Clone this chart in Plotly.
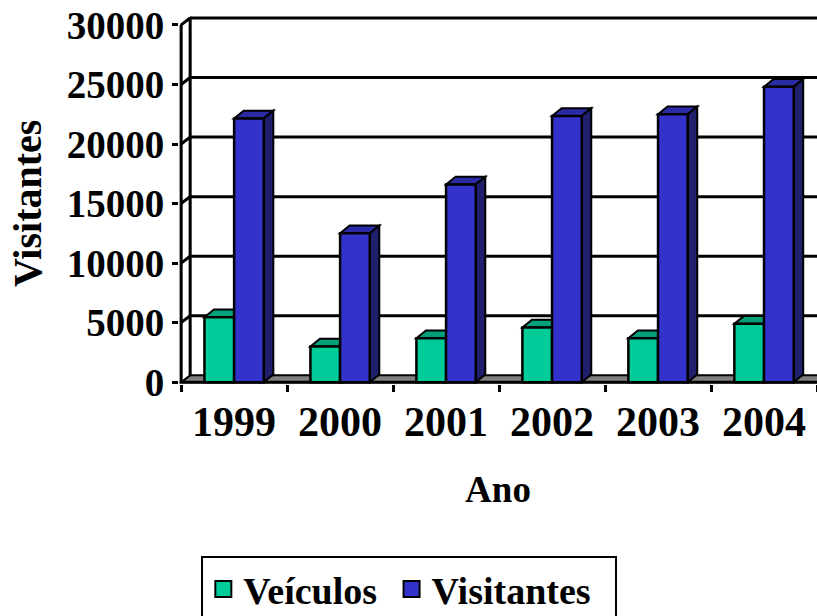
import plotly.graph_objects as go

anos = ["1999", "2000", "2001", "2002", "2003", "2004"]
veiculos = [5450, 3000, 3700, 4600, 3700, 4900]
visitantes = [22150, 12500, 16600, 22350, 22500, 24800]
y_ticks = [0, 5000, 10000, 15000, 20000, 25000, 30000]

GREEN, GREEN_TOP = "#00CC99", "#00A07A"
BLUE, BLUE_TOP, BLUE_SIDE = "#3333CC", "#2B2BA6", "#1F1F6B"
FONT = "Liberation Serif, Times New Roman, serif"

n = len(anos)
xc = [i + 0.5 for i in range(n)]
BW = 0.28           # bar width (category units)
WDX, WDY = 0.085, 580   # wall depth offset
BDX, BDY = 0.09, 650    # bar depth offset

fig = go.Figure()
fig.add_trace(go.Bar(x=xc, y=veiculos, name="Veículos", offset=-BW, width=BW,
                     marker=dict(color=GREEN, line=dict(color="black", width=2.5)),
                     showlegend=False))
fig.add_trace(go.Bar(x=xc, y=visitantes, name="Visitantes", offset=0, width=BW,
                     marker=dict(color=BLUE, line=dict(color="black", width=2.5)),
                     showlegend=False))
# legend entries
for nm, col, pad in [("Veículos", GREEN, 1), ("Visitantes", BLUE, 2)]:
    fig.add_trace(go.Scatter(x=[None], y=[None], mode="markers",
                             name=f"<b>{nm}</b>" + "\u00A0" * pad,
                             marker=dict(symbol="square", size=22, color=col,
                                         line=dict(color="black", width=2))))

shapes = []
def poly(pts, fill, lw=2):
    d = "M " + " L ".join(f"{x},{y}" for x, y in pts) + " Z"
    shapes.append(dict(type="path", path=d, xref="x", yref="y", fillcolor=fill,
                       line=dict(color="black", width=lw), layer="below"))
def line(x0, y0, x1, y1, w=3):
    shapes.append(dict(type="line", x0=x0, y0=y0, x1=x1, y1=y1, xref="x", yref="y",
                       line=dict(color="black", width=w), layer="below"))

xmax = n + 0.5
# floor
poly([(0, 0), (xmax, 0), (xmax + WDX, WDY), (WDX, WDY)], "#808080", 2)
# left wall
poly([(0, 0), (WDX, WDY), (WDX, y_ticks[-1] + WDY), (0, y_ticks[-1])], "white", 2)
# back-wall gridlines and wall connectors
for v in y_ticks[1:]:
    line(WDX, v + WDY, xmax + WDX, v + WDY, 3)
    line(0, v, WDX, v + WDY, 3)
line(WDX, WDY, WDX, y_ticks[-1] + WDY, 3)
# front axes
line(0, 0, 0, y_ticks[-1], 3)
line(0, 0, xmax, 0, 3)

# 3D faces of bars
for i in range(n):
    c = xc[i]
    g0, g1, gv = c - BW, c, veiculos[i]
    poly([(g0, gv), (g1, gv), (g1 + BDX, gv + BDY), (g0 + BDX, gv + BDY)], GREEN_TOP)
    b0, b1, bv = c, c + BW, visitantes[i]
    poly([(b0, bv), (b1, bv), (b1 + BDX, bv + BDY), (b0 + BDX, bv + BDY)], BLUE_TOP)
    poly([(b1, 0), (b1, bv), (b1 + BDX, bv + BDY), (b1 + BDX, BDY)], BLUE_SIDE)

fig.update_layout(
    width=817, height=616,
    margin=dict(l=179, r=0, t=13, b=232, autoexpand=False),
    paper_bgcolor="white", plot_bgcolor="white",
    shapes=shapes, barmode="overlay",
    font=dict(family=FONT, size=36, color="black"),
    showlegend=True,
    legend=dict(orientation="h", x=0.035, y=-0.463, xanchor="left", yanchor="top",
                bordercolor="black", borderwidth=2, bgcolor="white",
                font=dict(family=FONT, size=38, color="black"),
                itemsizing="trace", tracegroupgap=0, itemwidth=30),
    xaxis=dict(range=[-0.02, n], tickvals=xc, ticktext=[f"<b>{a}</b>" for a in anos],
               ticks="outside", automargin=False,
               ticklen=1, tickcolor="rgba(0,0,0,0)", showgrid=False, zeroline=False,
               showline=False,
               minor=dict(tickvals=list(range(n + 1)), ticks="outside", ticklen=7,
                          tickwidth=3, tickcolor="black", showgrid=False),
               tickfont=dict(family=FONT, size=42, color="black"),
               title=dict(text="<b>Ano</b>", standoff=31,
                          font=dict(family=FONT, size=37))),
    yaxis=dict(range=[-150, 31000], tickvals=y_ticks, automargin=False,
               ticktext=[f"<b>{v}</b>" for v in y_ticks], ticks="outside",
               ticklen=6, tickwidth=3, tickcolor="black", showgrid=False,
               zeroline=False, showline=False, ticklabeloverflow="allow",
               tickfont=dict(family=FONT, size=39, color="black")),
    annotations=[dict(text="<b>Visitantes</b>", textangle=-90, xref="paper",
                      yref="paper", x=0, y=0.485, xanchor="center", yanchor="middle",
                      xshift=-152, showarrow=False,
                      font=dict(family=FONT, size=40, color="black"))],
)

fig.write_html("out.html", config={"displayModeBar": False},
               post_script="document.body.style.margin='0px';"
                           "document.body.style.padding='0px';")
